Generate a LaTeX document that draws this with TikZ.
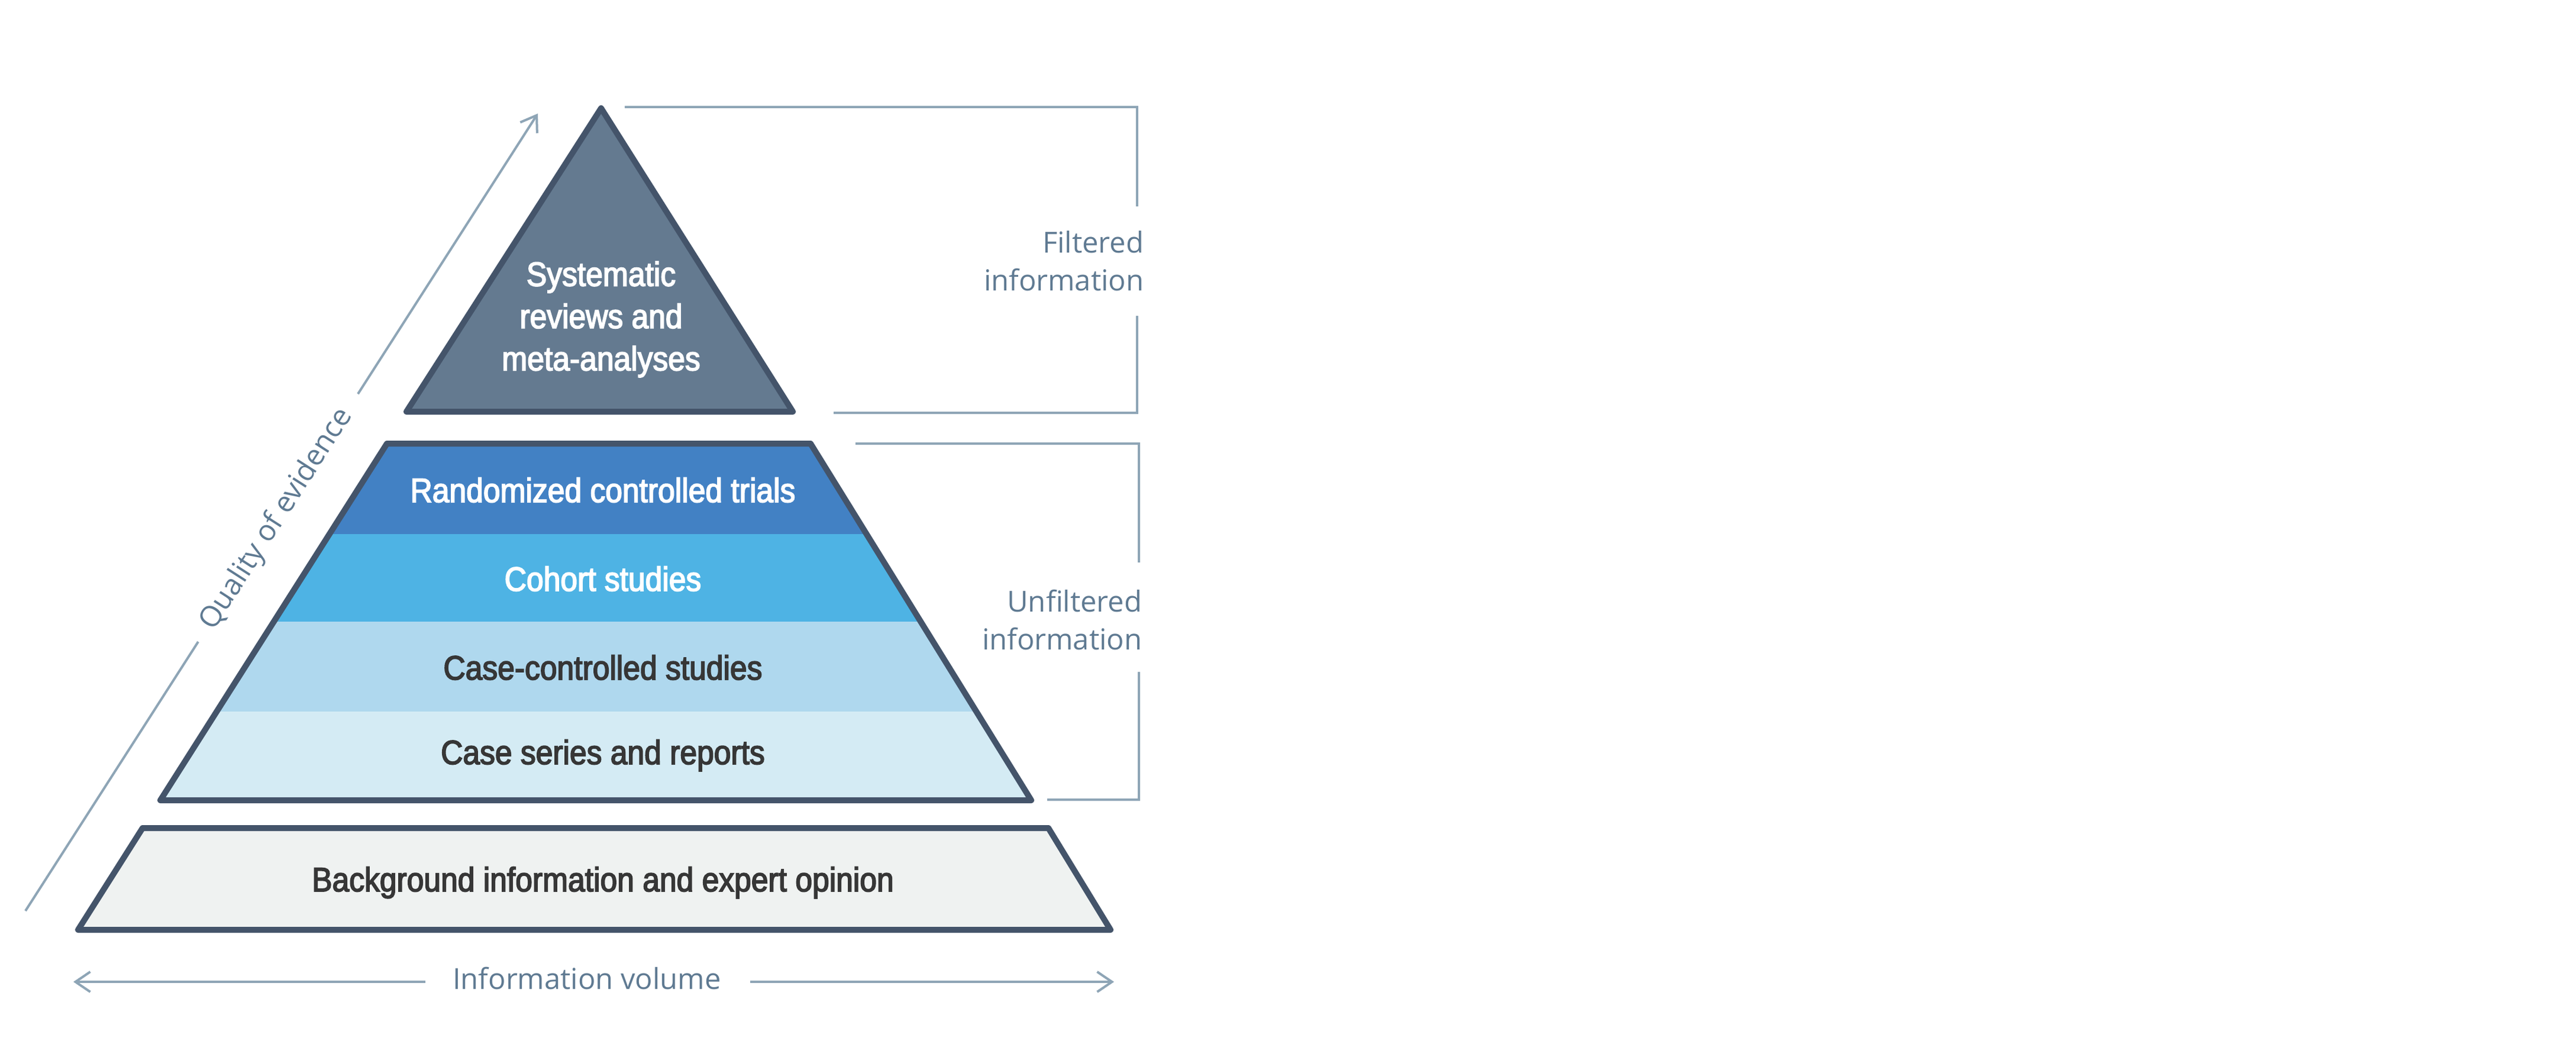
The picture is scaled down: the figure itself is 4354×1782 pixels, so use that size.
\documentclass[tikz,border=0pt]{standalone}
\usepackage{fontspec}
\setmainfont{Liberation Sans}
\newfontfamily\labelfont[FakeStretch=0.9,FakeBold=3]{Liberation Sans}
\newfontfamily\sidefont{Open Sans}
\usetikzlibrary{arrows.meta}
\definecolor{outline}{HTML}{44546A}
\definecolor{topfill}{HTML}{647A90}
\definecolor{rctfill}{HTML}{4281C4}
\definecolor{cohortfill}{HTML}{4EB3E4}
\definecolor{casectlfill}{HTML}{AFD8EE}
\definecolor{seriesfill}{HTML}{D4EBF4}
\definecolor{basefill}{HTML}{EFF2F1}
\definecolor{darktext}{HTML}{363636}
\definecolor{guide}{HTML}{8EA5B6}
\definecolor{sidetext}{HTML}{5F7A92}
\begin{document}
\begin{tikzpicture}[x=0.01cm,y=-0.01cm,
  tier/.style={draw=outline, line width=0.1cm, line join=round},
  tierlabel/.style={font=\labelfont\fontsize{16.3}{20.3}\selectfont, inner sep=0pt},
  sidelabel/.style={font=\sidefont\fontsize{13.9}{18.3}\selectfont, text=sidetext, inner sep=0pt},
  guideline/.style={draw=guide, line width=0.04cm},
  guidearrow/.style={guideline, -{Straight Barb[length=0.25cm,width=0.34cm]}}]
\useasboundingbox (0,0) rectangle (4354,1782);
\fill[white] (0,0) rectangle (4354,1782);

% top triangle
\draw[tier, fill=topfill] (1016,183) -- (1340,696) -- (687,696) -- cycle;
\node[tierlabel, text=white, align=center] (sys) at (1016,540)
  {Systematic\\reviews and\\meta-analyses};

% middle trapezoid with bands
\begin{scope}
  \clip (654,750) -- (1370,750) -- (1743,1353) -- (271,1353) -- cycle;
  \fill[rctfill] (200,740) rectangle (1800,903);
  \fill[cohortfill] (200,903) rectangle (1800,1051);
  \fill[casectlfill] (200,1051) rectangle (1800,1203);
  \fill[seriesfill] (200,1203) rectangle (1800,1360);
\end{scope}
\draw[tier] (654,750) -- (1370,750) -- (1743,1353) -- (271,1353) -- cycle;
\node[tierlabel, text=white, anchor=base] (rct) at (1019,849) {Randomized controlled trials};
\node[tierlabel, text=white, anchor=base] (cohort) at (1019,999) {Cohort studies};
\node[tierlabel, text=darktext, anchor=base] (casectl) at (1019,1149) {Case-controlled studies};
\node[tierlabel, text=darktext, anchor=base] (series) at (1019,1292) {Case series and reports};

% base trapezoid
\draw[tier, fill=basefill] (241,1400) -- (1772,1400) -- (1877,1572) -- (132,1572) -- cycle;
\node[tierlabel, text=darktext, anchor=base] (background) at (1019,1507) {Background information and expert opinion};

% filtered bracket
\coordinate (f1) at (1056,181);
\coordinate (f2) at (1922,181);
\coordinate (f3) at (1922,349);
\coordinate (f4) at (1922,534);
\coordinate (f5) at (1922,698);
\coordinate (f6) at (1409,698);
\draw[guideline] (f1) -- (f2) -- (f3);
\draw[guideline] (f4) -- (f5) -- (f6);
\node[sidelabel, align=right, anchor=east] (filtered) at (1934,441) {Filtered\\information};

% unfiltered bracket
\coordinate (u1) at (1446,750);
\coordinate (u2) at (1925,750);
\coordinate (u3) at (1925,951);
\coordinate (u4) at (1925,1136);
\coordinate (u5) at (1925,1352);
\coordinate (u6) at (1770,1352);
\draw[guideline] (u1) -- (u2) -- (u3);
\draw[guideline] (u4) -- (u5) -- (u6);
\node[sidelabel, align=right, anchor=east] (unfiltered) at (1931,1048) {Unfiltered\\information};

% quality of evidence arrow
\coordinate (q1) at (43,1540);
\coordinate (q2) at (335,1085);
\coordinate (q3) at (605,666);
\coordinate (q4) at (909,192);
\draw[guideline] (q1) -- (q2);
\draw[guidearrow] (q3) -- (q4);
\node[sidelabel, rotate=57.3] (quality) at (468,878) {Quality of evidence};

% information volume arrow
\coordinate (v1) at (719,1660);
\coordinate (v2) at (124,1660);
\coordinate (v3) at (1268,1660);
\coordinate (v4) at (1883,1660);
\draw[guidearrow] (v1) -- (v2);
\draw[guidearrow] (v3) -- (v4);
\node[sidelabel, anchor=base] (volume) at (992,1672) {Information volume};
\end{tikzpicture}
\end{document}
